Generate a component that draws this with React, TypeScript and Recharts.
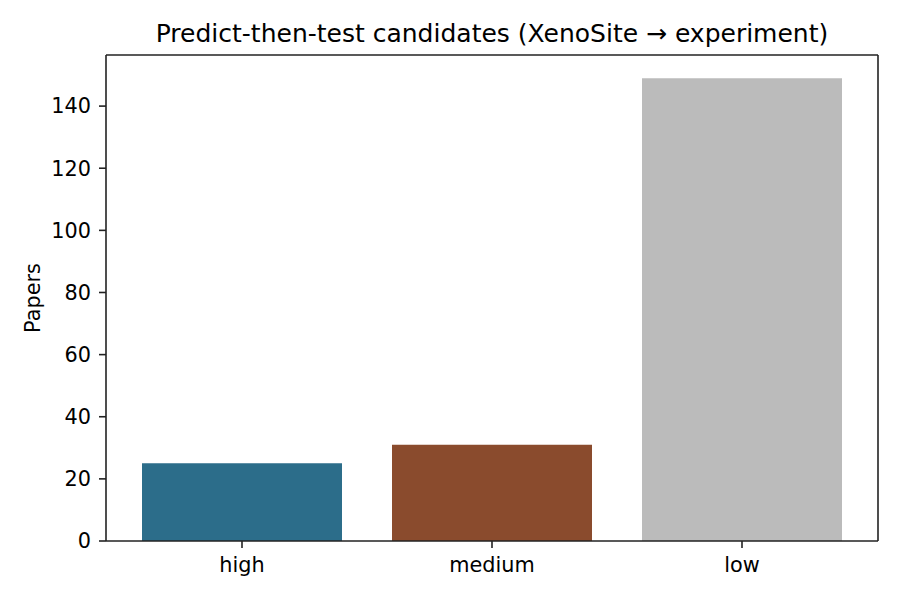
import React from 'react';
import { BarChart, Bar, XAxis, YAxis, Cell, Label } from 'recharts';

const categories = ['high', 'medium', 'low'];
const papers = [25, 31, 149];
const barColors = ['#2c6d8a', '#8a4b2d', '#bbbbbb'];
const yTicks = [0, 20, 40, 60, 80, 100, 120, 140];
const yMax = 156.45;
const title = 'Predict-then-test candidates (XenoSite \u2192 experiment)';
const yLabel = 'Papers';

const data = categories.map((c, i) => ({ category: c, papers: papers[i] }));

const FONT = 'DejaVu Sans, sans-serif';
const AXIS = '#222222';

const TitleLabel = (props: any) => {
  const vb = props.viewBox || {};
  return (
    <text
      x={vb.x + vb.width / 2}
      y={vb.y + vb.height - 13}
      textAnchor="middle"
      fontFamily={FONT}
      fontSize={25}
      fill="#000"
    >
      {title}
    </text>
  );
};

const YLabel = (props: any) => {
  const vb = props.viewBox || {};
  const x = vb.x - 6.5;
  const y = vb.y + vb.height / 2;
  return (
    <text
      x={x}
      y={y}
      transform={`rotate(-90, ${x}, ${y})`}
      textAnchor="middle"
      fontFamily={FONT}
      fontSize={20.8}
      fill="#000"
    >
      {yLabel}
    </text>
  );
};

export default function App() {
  return (
    <div style={{ position: 'absolute', left: 0, top: 0, width: 900, height: 600, background: '#fff' }}>
      <BarChart
        width={900}
        height={600}
        data={data}
        margin={{ top: 54, right: 21, left: 46, bottom: 29 }}
      >
        <XAxis
          dataKey="category"
          xAxisId={0}
          padding={{ left: 11, right: 11 }}
          height={30}
          stroke={AXIS}
          strokeWidth={1.6}
          tickLine={{ stroke: AXIS, strokeWidth: 1.6 }}
          tickSize={7}
          tickMargin={9}
          tick={{ fontFamily: FONT, fontSize: 20.8, fill: '#000' }}
        />
        <XAxis
          dataKey="category"
          xAxisId="top"
          orientation="top"
          height={1}
          padding={{ left: 11, right: 11 }}
          stroke={AXIS}
          strokeWidth={1.6}
          tick={false}
          tickLine={false}
        >
          <Label content={<TitleLabel />} />
        </XAxis>
        <YAxis
          yAxisId={0}
          width={60}
          domain={[0, yMax]}
          ticks={yTicks}
          allowDataOverflow
          stroke={AXIS}
          strokeWidth={1.6}
          tickLine={{ stroke: AXIS, strokeWidth: 1.6 }}
          tickSize={7}
          tickMargin={8}
          tick={{ fontFamily: FONT, fontSize: 20.8, fill: '#000' }}
        >
          <Label content={<YLabel />} />
        </YAxis>
        <YAxis
          yAxisId="right"
          orientation="right"
          width={1}
          domain={[0, yMax]}
          stroke={AXIS}
          strokeWidth={1.6}
          tick={false}
          tickLine={false}
        />
        <Bar dataKey="papers" xAxisId={0} yAxisId={0} barSize={200} isAnimationActive={false}>
          {data.map((d, i) => (
            <Cell key={d.category} fill={barColors[i]} />
          ))}
        </Bar>
      </BarChart>
    </div>
  );
}
